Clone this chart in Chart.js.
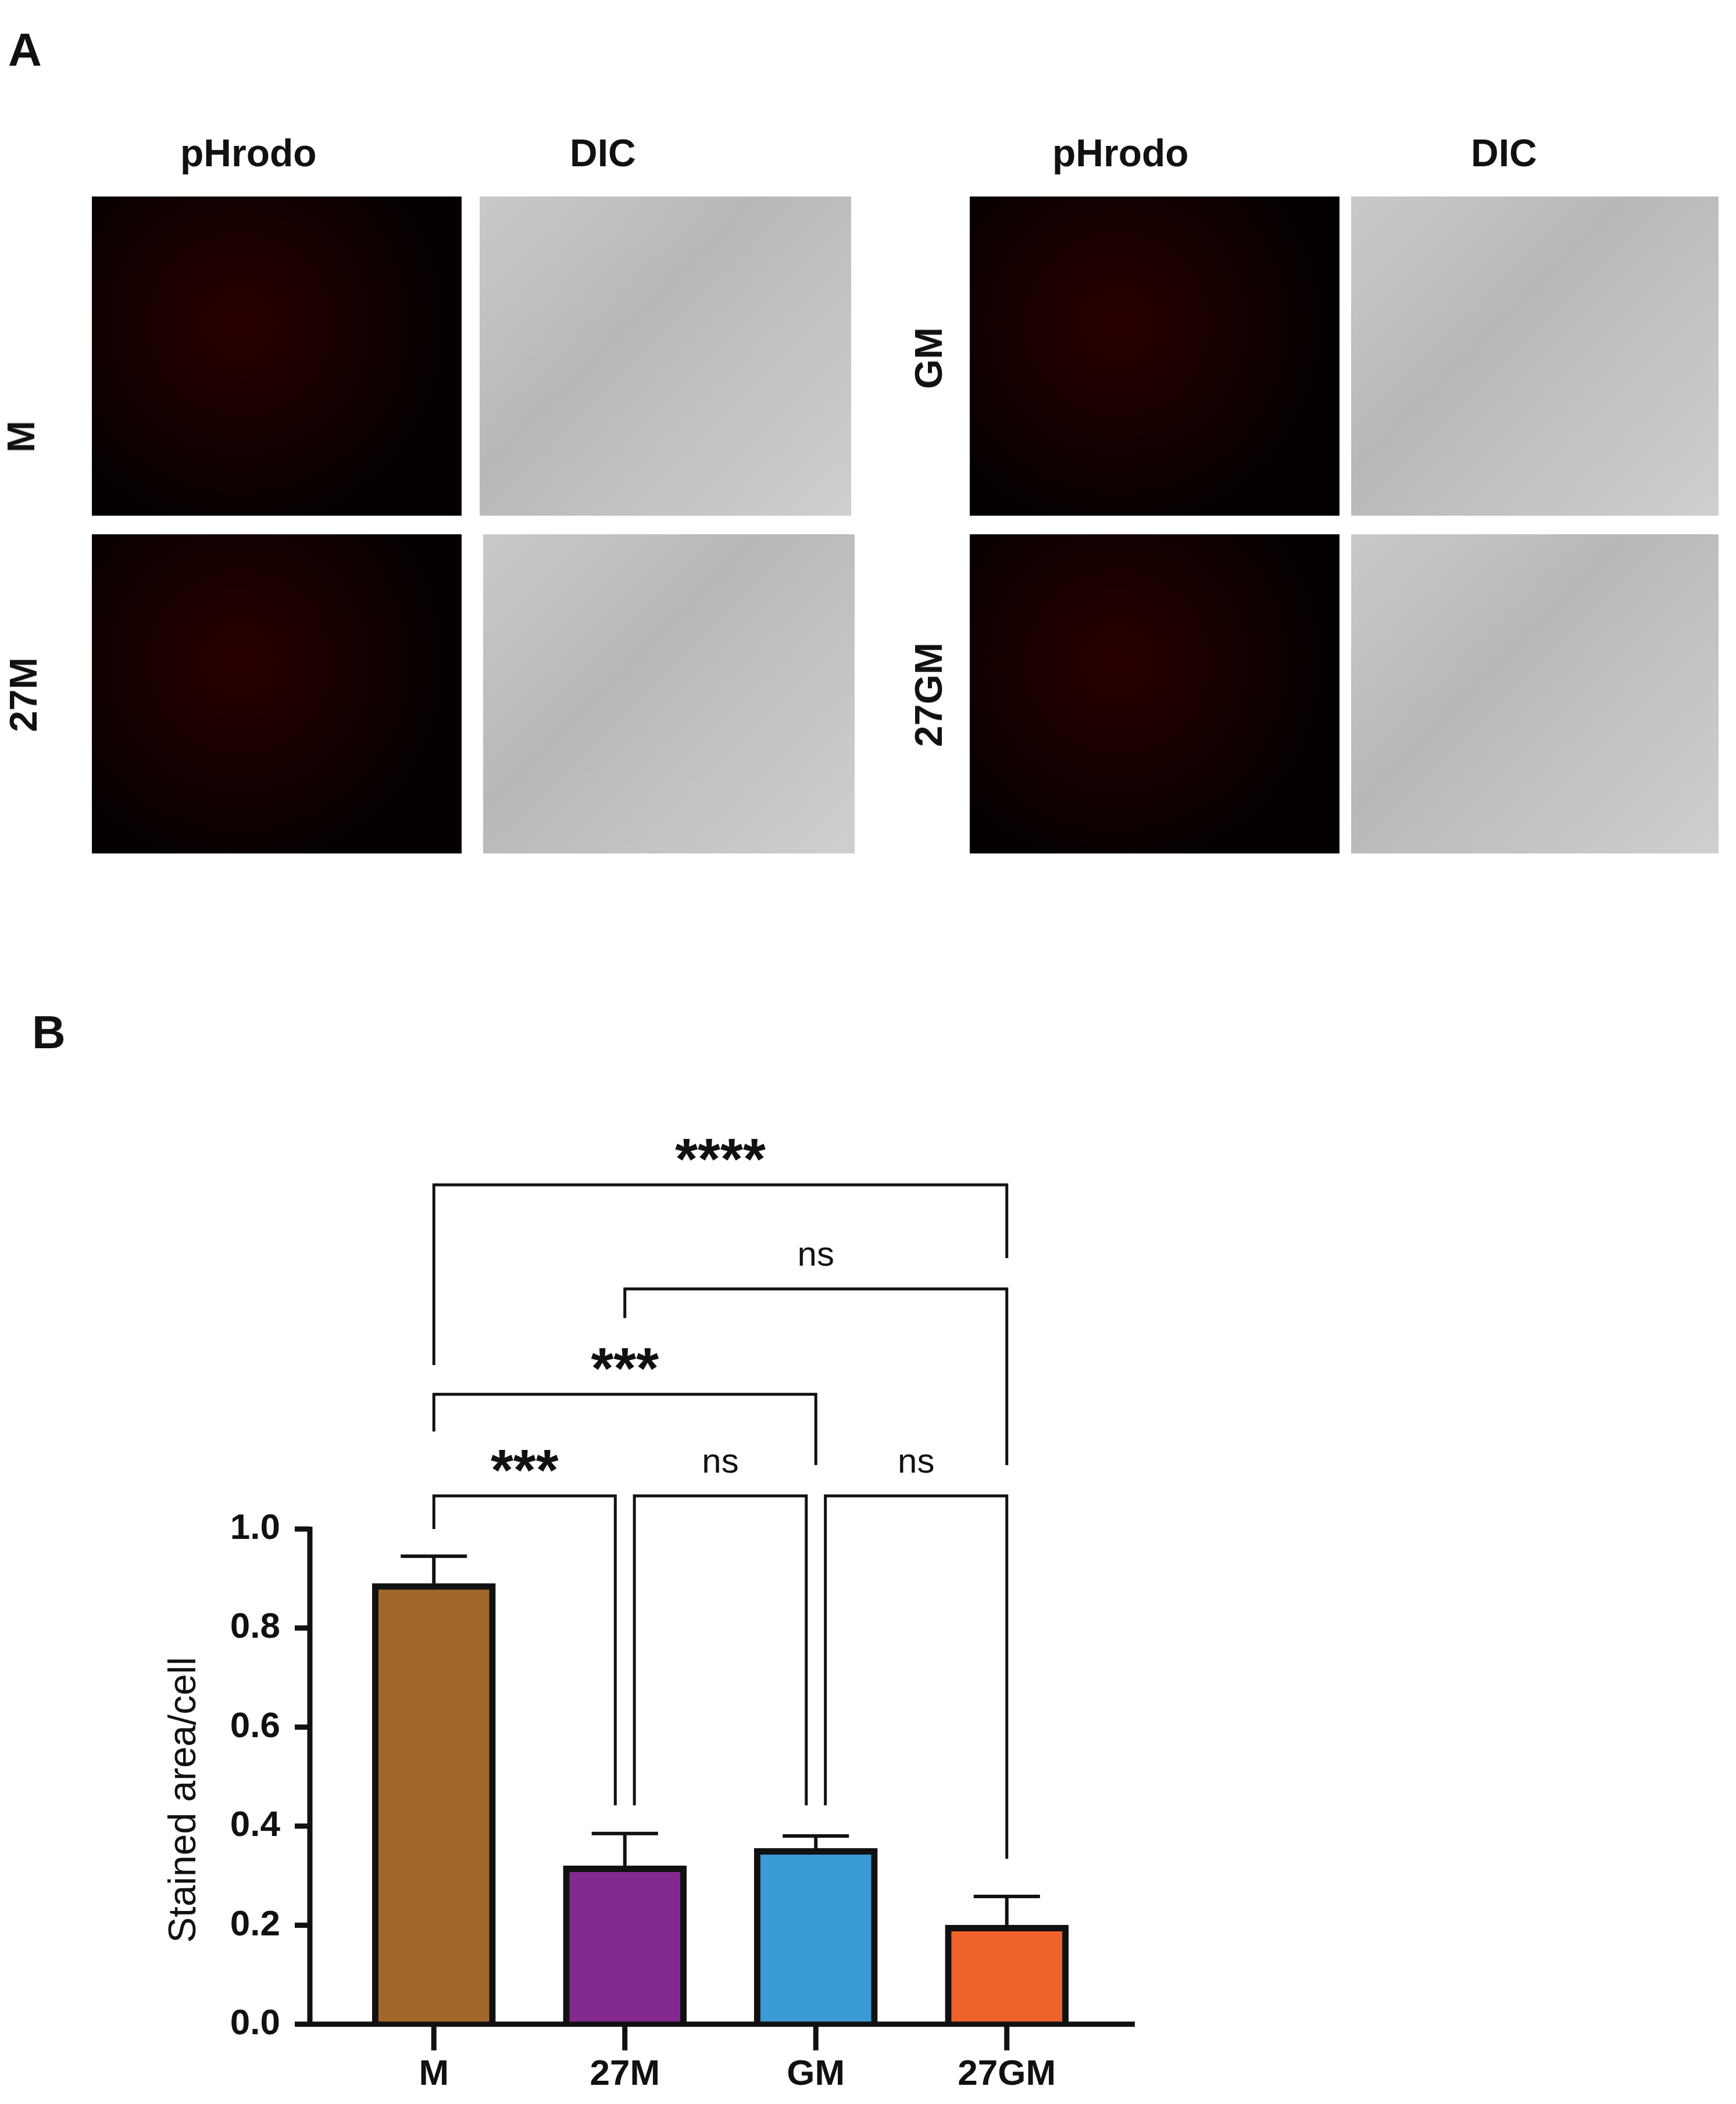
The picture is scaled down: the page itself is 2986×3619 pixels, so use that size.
<!DOCTYPE html>
<html><head><meta charset="utf-8">
<script src="https://cdn.jsdelivr.net/npm/chart.js@4/dist/chart.umd.min.js"></script>
<style>
body{margin:0;background:#fff;font-family:"Liberation Sans",Arial,sans-serif;}
#wrap{position:relative;width:2986px;height:3619px;}
canvas{position:absolute;left:0;top:0;}
.lbl{position:absolute;font-weight:bold;color:#111;white-space:nowrap;}
.img{position:absolute;}
.red{background:radial-gradient(circle at 40% 40%,#2a0000,#050000 70%);}
.dic{background:linear-gradient(135deg,#c9c9c9,#b8b8b8 40%,#cfcfcf);}
.rot{transform:translate(-50%,-50%) rotate(-90deg);}
</style></head><body>
<div id="wrap">
<canvas id="c" width="2986" height="3619"></canvas>
<div class="lbl" style="left:14px;top:40px;font-size:80px">A</div>
<div class="lbl" style="left:55px;top:1730px;font-size:80px">B</div>
<div class="lbl" style="left:310px;top:225px;font-size:66px">pHrodo</div>
<div class="lbl" style="left:980px;top:225px;font-size:66px">DIC</div>
<div class="lbl" style="left:1810px;top:225px;font-size:66px">pHrodo</div>
<div class="lbl" style="left:2530px;top:225px;font-size:66px">DIC</div>
<div class="img red" style="left:158px;top:338px;width:636px;height:549px"></div>
<div class="img dic" style="left:825px;top:338px;width:639px;height:549px"></div>
<div class="img red" style="left:158px;top:919px;width:636px;height:549px"></div>
<div class="img dic" style="left:831px;top:919px;width:639px;height:549px"></div>
<div class="img red" style="left:1668px;top:338px;width:636px;height:549px"></div>
<div class="img dic" style="left:2324px;top:338px;width:632px;height:549px"></div>
<div class="img red" style="left:1668px;top:919px;width:636px;height:549px"></div>
<div class="img dic" style="left:2324px;top:919px;width:632px;height:549px"></div>
<div class="lbl rot" style="left:36px;top:751px;font-size:66px">M</div>
<div class="lbl rot" style="left:40px;top:1195px;font-size:66px">27M</div>
<div class="lbl rot" style="left:1597px;top:616px;font-size:66px">GM</div>
<div class="lbl rot" style="left:1597px;top:1195px;font-size:66px">27GM</div>
</div>
<script>
const categories = ["M", "27M", "GM", "27GM"];
const means = [0.89, 0.32, 0.355, 0.2];
const errTop = [0.945, 0.385, 0.38, 0.258];
const colors = ["#a2672b", "#84298e", "#3a9bd6", "#f0622c"];
const yTicks = [0.0, 0.2, 0.4, 0.6, 0.8, 1.0];
// brackets: [fromIdx, toIdx, y, leftDrop, rightDrop, label, xOffsetL, xOffsetR]
const brackets = [
  [0, 1, 1.067, 1.0, 0.442, "***", 0, -0.05],
  [1, 2, 1.067, 0.442, 0.442, "ns", 0.05, -0.05],
  [2, 3, 1.067, 0.442, 0.334, "ns", 0.05, 0],
  [0, 2, 1.272, 1.197, 1.129, "***", 0, 0],
  [1, 3, 1.485, 1.426, 1.129, "ns", 0, 0],
  [0, 3, 1.695, 1.331, 1.547, "****", 0, 0]
];
const AXIS_X = 533, AXIS_END = 1952;

const extras = {
  id: "extras",
  afterDatasetsDraw(chart) {
    const ctx = chart.ctx, x = chart.scales.x, y = chart.scales.y;
    ctx.save();
    ctx.strokeStyle = "#111";
    // axes
    const y0 = y.getPixelForValue(0);
    ctx.lineWidth = 9;
    ctx.beginPath();
    ctx.moveTo(AXIS_X, y.getPixelForValue(1.0) - 4);
    ctx.lineTo(AXIS_X, y0);
    ctx.lineTo(AXIS_END, y0);
    yTicks.forEach(v => {
      ctx.moveTo(AXIS_X - 26, y.getPixelForValue(v));
      ctx.lineTo(AXIS_X, y.getPixelForValue(v));
    });
    categories.forEach((c, i) => {
      ctx.moveTo(x.getPixelForValue(i), y0);
      ctx.lineTo(x.getPixelForValue(i), y0 + 45);
    });
    ctx.stroke();
    // axis title
    ctx.fillStyle = "#111";
    ctx.save();
    ctx.translate(318, (y0 + y.getPixelForValue(1.0)) / 2 + 40);
    ctx.rotate(-Math.PI / 2);
    ctx.textAlign = "center";
    ctx.textBaseline = "middle";
    ctx.font = "66px 'Liberation Sans'";
    ctx.fillText("Stained area/cell", 0, 0);
    ctx.restore();
    // error bars
    ctx.lineWidth = 6;
    means.forEach((m, i) => {
      const cx = x.getPixelForValue(i);
      ctx.beginPath();
      ctx.moveTo(cx, y.getPixelForValue(m));
      ctx.lineTo(cx, y.getPixelForValue(errTop[i]));
      ctx.moveTo(cx - 57, y.getPixelForValue(errTop[i]));
      ctx.lineTo(cx + 57, y.getPixelForValue(errTop[i]));
      ctx.stroke();
    });
    // brackets
    ctx.lineWidth = 5;
    ctx.textAlign = "center";
    ctx.textBaseline = "alphabetic";
    brackets.forEach(b => {
      const x1 = x.getPixelForValue(b[0] + b[6]), x2 = x.getPixelForValue(b[1] + b[7]);
      const yy = y.getPixelForValue(b[2]);
      ctx.beginPath();
      ctx.moveTo(x1, y.getPixelForValue(b[3]));
      ctx.lineTo(x1, yy);
      ctx.lineTo(x2, yy);
      ctx.lineTo(x2, y.getPixelForValue(b[4]));
      ctx.stroke();
      if (b[5] === "ns") {
        ctx.font = "60px 'Liberation Sans'";
        ctx.fillText(b[5], (x1 + x2) / 2, yy - 40);
      } else {
        ctx.font = "bold 100px 'Liberation Sans'";
        ctx.fillText(b[5], (x1 + x2) / 2, yy - 10);
      }
    });
    ctx.restore();
  }
};

new Chart(document.getElementById("c"), {
  type: "bar",
  data: {
    labels: categories,
    datasets: [{
      data: means,
      backgroundColor: colors,
      borderColor: "#111",
      borderWidth: 11,
      borderSkipped: "bottom",
      barThickness: 212
    }]
  },
  options: {
    responsive: false,
    animation: false,
    devicePixelRatio: 1,
    layout: { padding: { left: 300, right: 1090, top: 2630, bottom: 0 } },
    plugins: { legend: { display: false }, tooltip: { enabled: false } },
    scales: {
      x: {
        offset: true,
        grid: { display: false, drawTicks: false },
        border: { display: false },
        ticks: { color: "#111", font: { family: "Liberation Sans", weight: "bold", size: 62 }, padding: 50 },
        afterFit: s => { s.height = 135; }
      },
      y: {
        min: 0, max: 1.0,
        afterBuildTicks: s => { s.ticks = yTicks.map(v => ({ value: v })); },
        grid: { display: false, drawTicks: false },
        border: { display: false },
        ticks: { color: "#111", padding: 100, font: { family: "Liberation Sans", weight: "bold", size: 62 }, callback: v => v.toFixed(1) },
        afterFit: s => { s.width = 282; }
      }
    }
  },
  plugins: [extras]
});
</script>
</body></html>
